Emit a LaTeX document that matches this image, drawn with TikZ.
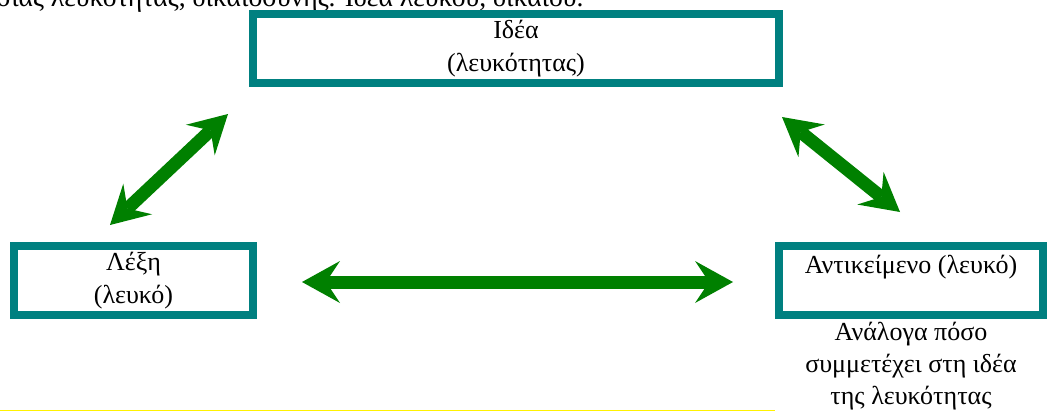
\documentclass[tikz,border=0pt]{standalone}
\usepackage{fontspec}
\setmainfont{Liberation Serif}
\usetikzlibrary{arrows.meta}
\definecolor{frameteal}{HTML}{008080}
\definecolor{arrowgreen}{HTML}{008000}
\begin{document}
\begin{tikzpicture}[x=0.5pt, y=-0.5pt,
    every node/.style={font=\fontsize{13}{16.2}\selectfont, align=center},
    termbox/.style={draw=frameteal, line width=4pt, minimum height=34.5pt, inner sep=0pt},
    twoway/.style={draw=arrowgreen, line width=6.5pt,
        {Stealth[length=19pt, width=21pt, inset=7pt, line width=0pt]}-{Stealth[length=19pt, width=21pt, inset=7pt, line width=0pt]}}]
    \useasboundingbox (0,0) rectangle (1052,412);
    \clip (0,0) rectangle (1052,412);
    % line cut off at the top
    \node[anchor=base west, inner sep=0pt, font=\fontsize{13.8}{16}\selectfont] (toptext) at (-4,6.5) {σιας λευκότητας, δικαιοσύνης. Ιδέα λευκού, δίκαιου.};
    \node[termbox, minimum width=263pt] (idea) at (516,48.5) {Ιδέα\\(λευκότητας)};
    \node[termbox, minimum width=119.5pt] (lexi) at (133.5,280.5) {Λέξη\\(λευκό)};
    \node[termbox, minimum width=132pt] (obj) at (911,280.5) {Αντικείμενο (λευκό)\\\mbox{}};
    \node (note) at (911,366) {Ανάλογα πόσο\\συμμετέχει στη ιδέα\\της λευκότητας};
    % arrow ends
    \coordinate (lexi-r) at (302,282);
    \coordinate (obj-l) at (733,282);
    \coordinate (lexi-t) at (110,225);
    \coordinate (idea-l) at (228,114);
    \coordinate (idea-r) at (782,117);
    \coordinate (obj-t) at (900,212);
    \draw[twoway] (lexi-r) -- (obj-l);
    \draw[twoway] (lexi-t) -- (idea-l);
    \draw[twoway] (idea-r) -- (obj-t);
    \coordinate (rule-l) at (0,410);
    \coordinate (rule-r) at (775,410);
    \draw[yellow, line width=0.5pt] (rule-l) -- (rule-r);
\end{tikzpicture}
\end{document}
